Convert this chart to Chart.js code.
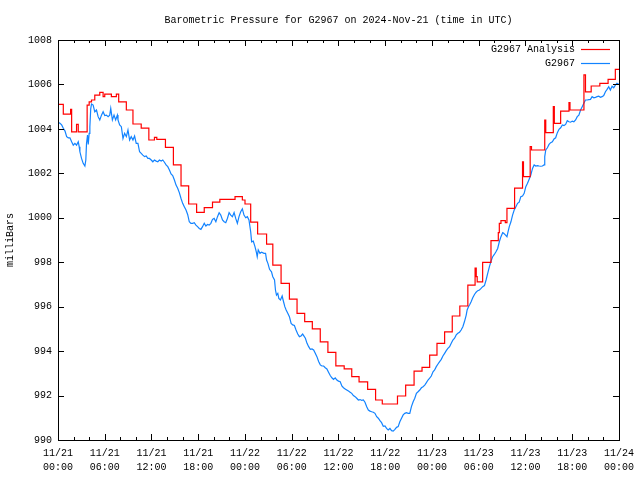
<!DOCTYPE html>
<html><head><meta charset="utf-8">
<script src="https://cdn.jsdelivr.net/npm/chart.js@4/dist/chart.umd.min.js"></script>
<style>html,body{margin:0;padding:0;background:#fff}</style>
</head><body>
<canvas id="c" width="640" height="480"></canvas>
<script>
const chartTitle = "Barometric Pressure for G2967 on 2024-Nov-21 (time in UTC)";
const yAxisTitle = "milliBars";
const seriesNames = ["G2967 Analysis", "G2967"];
const xTickLabels = [["11/21","00:00"],["11/21","06:00"],["11/21","12:00"],["11/21","18:00"],
  ["11/22","00:00"],["11/22","06:00"],["11/22","12:00"],["11/22","18:00"],
  ["11/23","00:00"],["11/23","06:00"],["11/23","12:00"],["11/23","18:00"],["11/24","00:00"]];
const yTickLabels = ["990","992","994","996","998","1000","1002","1004","1006","1008"];

// hours since 11/21 00:00 UTC
const analysisHours = [0,0.68,1.62,1.75,2.38,2.6,3.74,4.0,4.3,4.72,5.36,5.79,6.0,6.85,7.49,7.79,8.77,9.62,10.68,11.66,12.38,12.68,13.79,14.81,15.79,16.77,17.79,18.77,19.83,20.77,22.72,23.66,24.0,24.73,25.62,26.77,27.57,28.63,29.7,30.68,31.66,32.64,33.66,34.64,35.66,36.73,37.7,38.64,39.74,40.76,41.62,43.57,44.62,45.7,46.72,47.7,48.64,49.62,50.6,51.57,52.6,53.53,53.68,53.8,54.5,55.57,56.51,56.64,56.85,57.41,57.62,58.6,59.62,59.74,60.6,60.77,62.47,62.6,63.57,63.7,64.51,65.58,65.71,67.5,67.7,68.43,69.54,70.6,71.53,72];
const analysisValues = [1005.1,1004.66,1004.88,1003.87,1004.2,1003.87,1005.07,1005.22,1005.3,1005.52,1005.64,1005.45,1005.56,1005.45,1005.56,1005.22,1004.85,1004.22,1004.03,1003.5,1003.62,1003.53,1003.17,1002.38,1001.44,1000.62,1000.24,1000.46,1000.7,1000.83,1000.95,1000.8,1000.62,999.8,999.27,998.81,997.87,997.05,996.34,995.7,995.33,995.0,994.42,993.94,993.34,993.2,992.85,992.62,992.28,991.8,991.62,991.98,992.47,993.1,993.27,993.82,994.35,994.87,995.58,996.03,996.97,997.73,997.35,997.12,997.99,998.97,999.33,999.75,999.87,999.78,1000.42,1001.33,1002.52,1001.85,1003.2,1003.05,1004.4,1003.83,1005.0,1004.25,1004.8,1005.18,1004.85,1006.43,1005.67,1005.93,1006.05,1006.23,1006.68,1006.68];

const obsHours = [0,0.25,0.47,0.68,0.9,1.11,1.32,1.53,1.75,1.96,2.17,2.38,2.6,2.72,2.81,3.02,3.23,3.45,3.57,3.66,3.79,3.88,4.0,4.09,4.2,4.3,4.51,4.72,4.94,5.15,5.36,5.58,5.79,6.0,6.21,6.43,6.64,6.77,6.98,7.19,7.4,7.62,7.7,7.91,8.13,8.34,8.55,8.77,8.98,9.19,9.4,9.62,9.83,10.04,10.26,10.47,10.68,10.89,11.11,11.32,11.53,11.74,11.96,12.17,12.38,12.6,12.81,13.02,13.24,13.45,13.66,13.87,14.09,14.3,14.51,14.72,14.94,15.15,15.36,15.57,15.79,16.0,16.21,16.43,16.64,16.85,17.06,17.28,17.49,17.7,17.91,18.13,18.34,18.55,18.77,18.98,19.19,19.4,19.62,19.83,20.04,20.26,20.47,20.68,20.89,21.11,21.32,21.53,21.74,21.96,22.17,22.38,22.6,22.81,23.02,23.23,23.45,23.66,23.87,24.09,24.3,24.51,24.73,24.85,25.06,25.28,25.45,25.57,25.7,25.92,26.13,26.43,26.64,26.77,26.94,27.15,27.4,27.57,27.79,27.91,28.04,28.21,28.34,28.55,28.77,28.89,29.11,29.28,29.49,29.7,29.92,30.13,30.34,30.55,30.77,30.98,31.19,31.4,31.53,31.75,31.96,32.17,32.38,32.6,32.81,33.02,33.23,33.45,33.66,33.87,34.09,34.3,34.51,34.72,34.94,35.15,35.36,35.58,35.79,36.0,36.22,36.43,36.64,36.85,37.06,37.28,37.49,37.7,37.91,38.13,38.34,38.55,38.77,38.98,39.19,39.4,39.62,39.83,40.04,40.26,40.47,40.68,40.9,41.11,41.32,41.53,41.75,41.96,42.17,42.38,42.6,42.81,43.02,43.24,43.45,43.66,43.87,44.09,44.3,44.51,44.72,44.94,45.15,45.36,45.58,45.79,46.0,46.21,46.43,46.64,46.85,47.07,47.28,47.49,47.7,47.91,48.13,48.34,48.55,48.77,48.98,49.19,49.4,49.62,49.83,50.04,50.26,50.47,50.68,50.9,51.11,51.32,51.53,51.74,51.96,52.17,52.39,52.51,52.68,52.85,53.02,53.23,53.45,53.66,53.87,54.09,54.3,54.51,54.73,54.94,55.15,55.37,55.58,55.79,56.0,56.21,56.43,56.64,56.85,57.07,57.2,57.41,57.62,57.75,57.92,58.13,58.34,58.55,58.77,58.98,59.19,59.4,59.62,59.83,60.04,60.26,60.47,60.68,60.9,61.11,61.32,61.53,61.75,61.96,62.17,62.38,62.47,62.6,62.81,63.02,63.23,63.45,63.66,63.87,64.09,64.3,64.51,64.73,64.94,65.15,65.36,65.58,65.79,66.0,66.21,66.43,66.64,66.85,67.07,67.28,67.49,67.7,67.92,68.13,68.34,68.55,68.77,68.98,69.19,69.4,69.62,69.83,70.04,70.26,70.47,70.68,70.89,71.11,71.32,71.53,71.74,72];
const obsValues = [1004.3,1004.25,1004.18,1004.03,1003.9,1003.65,1003.6,1003.6,1003.42,1003.27,1003.35,1003.27,1003.42,1003.2,1002.97,1002.67,1002.45,1002.33,1002.6,1003.35,1003.72,1003.3,1003.8,1004.1,1004.9,1005.12,1005.07,1004.77,1004.85,1004.55,1004.4,1004.62,1004.77,1004.6,1004.62,1004.55,1004.62,1004.92,1004.4,1004.62,1004.4,1004.62,1004.4,1004.18,1004.1,1003.57,1003.8,1003.65,1003.95,1003.5,1003.65,1003.5,1003.68,1003.35,1003.35,1002.97,1002.9,1002.82,1002.75,1002.78,1002.67,1002.67,1002.6,1002.52,1002.6,1002.55,1002.52,1002.6,1002.55,1002.6,1002.5,1002.38,1002.3,1002.15,1001.97,1001.9,1001.7,1001.47,1001.33,1001.13,1000.87,1000.65,1000.5,1000.35,1000.15,999.82,999.75,999.75,999.78,999.67,999.6,999.52,999.48,999.6,999.75,999.63,999.7,999.67,999.75,999.93,999.97,999.82,1000.05,1000.23,1000.12,999.9,999.82,999.78,999.97,1000.23,1000.12,1000.05,1000.23,999.97,999.75,1000.05,1000.27,1000.4,1000.12,1000.0,1000.05,999.9,999.37,998.92,998.95,998.7,998.47,998.25,998.55,998.4,998.45,998.4,998.4,998.1,997.95,997.68,997.57,997.35,997.2,996.75,996.52,996.6,996.37,996.3,996.48,996.3,996.0,995.85,995.7,995.55,995.25,995.18,995.15,994.95,994.77,994.65,994.68,994.77,994.7,994.58,994.35,994.2,994.08,994.1,994.05,993.9,993.75,993.53,993.38,993.33,993.33,993.25,993.2,993.05,992.9,992.8,992.73,992.8,992.7,992.65,992.62,992.43,992.35,992.3,992.25,992.2,992.15,992.1,992.0,991.95,991.88,991.8,991.82,991.78,991.8,991.7,991.5,991.35,991.3,991.27,991.25,991.2,991.05,990.98,990.87,990.78,990.62,990.63,990.52,990.45,990.52,990.42,990.4,990.48,990.57,990.6,990.82,990.98,991.13,991.2,991.23,991.2,991.2,991.5,991.72,991.88,992.1,992.17,992.25,992.35,992.4,992.47,992.58,992.7,992.78,992.88,993.07,993.15,993.3,993.42,993.53,993.63,993.78,993.9,994.02,994.12,994.2,994.35,994.5,994.58,994.73,994.8,994.85,994.95,995.1,995.33,995.62,995.85,996.0,996.1,996.22,996.4,996.55,996.65,996.72,996.75,996.82,996.9,996.95,997.2,997.5,997.8,998.05,998.25,998.35,998.47,998.62,998.92,999.15,999.33,999.3,999.23,999.15,999.35,999.6,999.82,1000.12,1000.35,1000.5,1000.65,1000.7,1000.95,1000.98,1001.1,1001.4,1001.55,1001.73,1001.92,1002.22,1002.38,1002.33,1002.35,1002.33,1002.32,1002.33,1002.38,1002.75,1003.05,1003.15,1003.3,1003.38,1003.42,1003.55,1003.6,1003.83,1003.98,1004.05,1004.18,1004.15,1004.2,1004.37,1004.32,1004.3,1004.35,1004.32,1004.4,1004.55,1004.62,1004.85,1005.0,1005.15,1005.3,1005.3,1005.32,1005.33,1005.45,1005.4,1005.42,1005.45,1005.47,1005.42,1005.45,1005.5,1005.67,1005.78,1005.9,1005.75,1005.92,1005.85,1005.97,1006.05,1006.0];

const FONT = "Liberation Mono";
const RED = "#ff0000";
const BLUE = "#1283ff";

const decor = {
  id: 'decor',
  afterDraw(chart) {
    const ctx = chart.ctx, a = chart.chartArea, xs = chart.scales.x, ys = chart.scales.y;
    ctx.save();
    ctx.strokeStyle = '#000'; ctx.lineWidth = 1;
    ctx.beginPath();
    for (let h = 0; h <= 72; h += 2) {
      const px = Math.round(xs.getPixelForValue(h)) + 0.5;
      const len = (h % 6 === 0) ? 6 : 3;
      ctx.moveTo(px, a.bottom); ctx.lineTo(px, a.bottom - len);
      ctx.moveTo(px, a.top); ctx.lineTo(px, a.top + len);
    }
    for (let v = 990; v <= 1008; v += 2) {
      const py = Math.round(ys.getPixelForValue(v)) + 0.5;
      ctx.moveTo(a.left, py); ctx.lineTo(a.left + 6, py);
      ctx.moveTo(a.right, py); ctx.lineTo(a.right - 6, py);
    }
    ctx.stroke();
    ctx.strokeRect(Math.round(a.left) + 0.5, Math.round(a.top) + 0.5, Math.round(a.right - a.left), Math.round(a.bottom - a.top));
    ctx.fillStyle = '#000';
    ctx.font = '10px "' + FONT + '"';
    ctx.textAlign = 'center'; ctx.textBaseline = 'middle';
    ctx.fillText(chartTitle, (a.left + a.right) / 2, 20);
    ctx.save();
    ctx.translate(10, (a.top + a.bottom) / 2);
    ctx.rotate(-Math.PI / 2);
    ctx.fillText(yAxisTitle, 0, 0);
    ctx.restore();
    ctx.textAlign = 'right';
    const cols = [RED, BLUE];
    seriesNames.forEach((n, i) => {
      const y = 49 + i * 14;
      ctx.fillStyle = '#000';
      ctx.fillText(n, 575, y);
      ctx.strokeStyle = cols[i]; ctx.lineWidth = 1.2;
      ctx.beginPath(); ctx.moveTo(581, y + 0.5); ctx.lineTo(610, y + 0.5); ctx.stroke();
    });
    ctx.restore();
  }
};

new Chart(document.getElementById('c'), {
  type: 'line',
  data: {
    datasets: [
      { label: seriesNames[0], data: analysisHours.map((h, i) => ({x: h, y: analysisValues[i]})),
        borderColor: RED, borderWidth: 1.2, pointRadius: 0, stepped: true, fill: false },
      { label: seriesNames[1], data: obsHours.map((h, i) => ({x: h, y: obsValues[i]})),
        borderColor: BLUE, borderWidth: 1.2, pointRadius: 0, tension: 0, fill: false }
    ]
  },
  options: {
    responsive: false, animation: false, devicePixelRatio: 1,
    layout: { padding: { top: 40, right: 18, left: 0, bottom: 0 } },
    plugins: { legend: { display: false }, title: { display: false }, tooltip: { enabled: false } },
    scales: {
      x: { type: 'linear', min: 0, max: 72,
        grid: { display: false, drawTicks: false }, border: { display: false },
        ticks: { stepSize: 6, autoSkip: false, maxRotation: 0, minRotation: 0, padding: 6, color: '#000',
          font: { family: FONT, size: 10, lineHeight: 1.4 },
          callback: (v) => xTickLabels[Math.round(v / 6)] },
        afterFit: (s) => { s.height = 40; } },
      y: { type: 'linear', min: 990, max: 1008,
        grid: { display: false, drawTicks: false }, border: { display: false },
        ticks: { stepSize: 2, padding: 6, color: '#000', font: { family: FONT, size: 10 },
          callback: (v) => yTickLabels[Math.round((v - 990) / 2)] },
        afterFit: (s) => { s.width = 58; } }
    }
  },
  plugins: [decor]
});
</script>
</body></html>
